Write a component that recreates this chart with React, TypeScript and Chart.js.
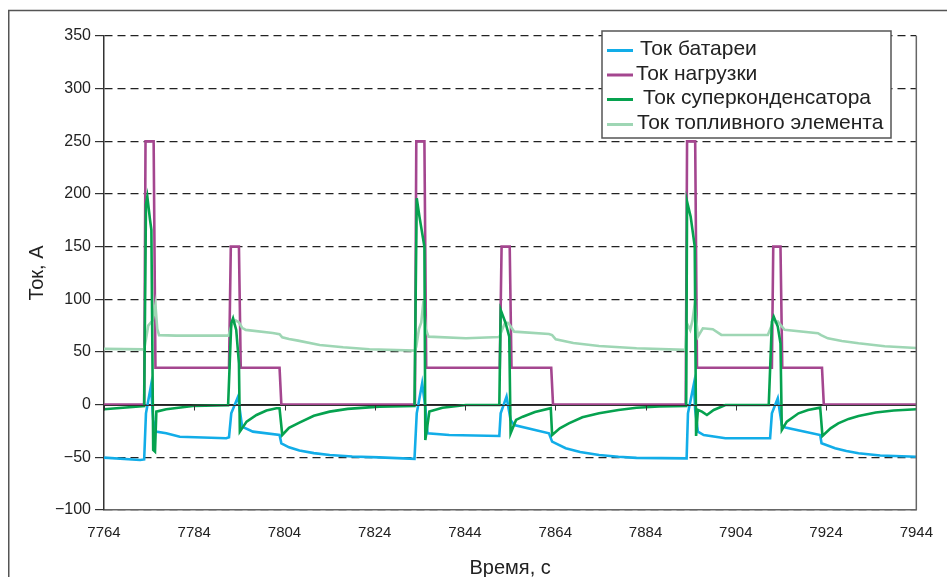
import React, { useEffect, useRef } from "react";
import { Chart, registerables } from "chart.js";

Chart.register(...registerables);

// ---- Data (time in s, current in A) ----
const loadT = [7764, 7772.9, 7773.2, 7775.0, 7775.4, 7791.7, 7792.1, 7793.9, 7794.3, 7802.9, 7803.3,
  7832.9, 7833.2, 7835.0, 7835.4, 7851.7, 7852.1, 7853.9, 7854.3, 7863.1, 7863.5,
  7892.9, 7893.2, 7895.0, 7895.4, 7912.0, 7912.3, 7913.9, 7914.3, 7923.1, 7923.5, 7944];
const loadI = [0, 0, 250, 250, 35, 35, 150, 150, 35, 35, 0,
  0, 250, 250, 35, 35, 150, 150, 35, 35, 0,
  0, 250, 250, 35, 35, 150, 150, 35, 35, 0, 0];

const fuelT = [7764, 7772.9, 7773.3, 7773.8, 7774.8, 7775.4, 7775.8, 7776.2, 7780, 7791.6, 7792.3, 7793.2, 7793.9, 7794.6, 7795.4, 7801.4, 7802.9, 7803.5, 7805, 7807, 7811.8, 7817, 7822.8, 7832.9,
  7833.2, 7833.8, 7834.3, 7834.8, 7835.3, 7835.9, 7844.2, 7851.6, 7852.4, 7852.9, 7853.6, 7854.9, 7862.6, 7863.3, 7864.1, 7868, 7873.7, 7882, 7892.8,
  7893.2, 7893.9, 7894.4, 7894.9, 7895.6, 7896.7, 7898.9, 7900.8, 7911.1, 7912.2, 7913.3, 7914.8, 7922.2, 7922.9, 7924.4, 7927.5, 7931.2, 7937, 7944];
const fuelI = [53, 52.5, 62, 75, 80, 95, 72, 66, 65.5, 65.5, 76, 80, 78, 73, 71, 68, 67, 64, 62.3, 60.8, 56.7, 54.5, 52.6, 51.3,
  55, 72, 78, 99, 72, 64.6, 63, 64.3, 73, 77.9, 77.5, 69.3, 67.1, 66, 62.1, 58.5, 55.7, 53.5, 52,
  77, 71, 80, 95.6, 64.6, 72.5, 71.6, 66.2, 66.2, 78, 79, 71, 67.8, 66, 63, 60.5, 58.3, 55.5, 53.8];

const battT = [7764, 7772, 7772.9, 7773.3, 7774.4, 7774.9, 7775.5, 7777.8, 7780.8, 7791.1, 7791.7, 7792.2, 7793.7, 7794.6, 7797, 7802.9, 7803.3, 7805, 7807.3, 7810.5, 7814, 7819, 7825, 7832.8,
  7833.3, 7834.5, 7835.2, 7835.7, 7840.5, 7851.6, 7851.9, 7853.2, 7854.1, 7854.9, 7862.6, 7863.3, 7866.3, 7869.5, 7873.7, 7878, 7882, 7893.1,
  7893.4, 7894.7, 7895, 7895.6, 7896.9, 7901.7, 7911.6, 7912, 7913.3, 7914.2, 7915, 7922.7, 7923, 7926, 7928.5, 7931.2, 7936, 7944];
const battI = [-50.3, -52.5, -52, -8.2, 17.8, -14.5, -25.6, -27.2, -30.4, -31.9, -31, -8.2, 7.6, -20.9, -25.6, -28.8, -36.7, -40.5, -43.5, -46, -47.8, -49.2, -50, -51.5,
  -8.2, 20.3, -2, -27.2, -28.8, -29.7, -8.2, 7.6, -14.5, -19.3, -27.2, -35.1, -41.4, -45, -47.8, -49.5, -50.5, -51,
  -8.2, 19.5, -5, -25.6, -28.8, -31.9, -31.9, -8.2, 6, -19.3, -21.8, -28.8, -36.7, -41.4, -44, -46.2, -48.2, -49.5];

const capT = [7764, 7772.9, 7773.3, 7773.6, 7774.2, 7774.5, 7774.9, 7775.3, 7775.6, 7777.8, 7783.7, 7791.5, 7792.2, 7792.6, 7793.3, 7793.9, 7794.1, 7795.6, 7797.8, 7800, 7802.2, 7802.9, 7803.5, 7805, 7807.3, 7810.5, 7814, 7818, 7825, 7832.8,
  7833.3, 7833.9, 7835, 7835.2, 7836.1, 7839, 7844.2, 7851.6, 7851.9, 7853, 7853.8, 7854.1, 7855.3, 7856.8, 7859.5, 7863, 7863.3, 7865, 7867, 7870, 7873.7, 7878, 7882, 7887, 7893,
  7893.2, 7894, 7894.9, 7895.2, 7895.6, 7896.5, 7897.6, 7899.1, 7901.7, 7911.3, 7912, 7912.4, 7913.3, 7913.9, 7914.2, 7915.3, 7917.9, 7920, 7922.7, 7923.2, 7925, 7926.7, 7929, 7931.2, 7935, 7939, 7944];
const capI = [-4.4, -1.2, 190, 197.5, 175.4, 166, -43, -44.6, -6.6, -4.4, -1.2, -0.6, 77.3, 82, 71, 39.3, -25.6, -16.1, -9.8, -5.5, -3.4, -3.4, -28.8, -22, -17.1, -10.5, -6.6, -4, -1.9, -1.2,
  196, 178.5, 150, -33.5, -6.6, -3, -0.3, -0.3, 90, 77.3, 64.6, -27.2, -14.5, -11.4, -7, -3.4, -28.8, -22.5, -17.7, -12, -8.2, -5, -3, -1.8, -1.2,
  192.8, 178.5, 150, -29.7, -5, -6.6, -9.8, -5, -0.3, -0.3, 78.8, 83.6, 74.1, 58.3, -24, -16.1, -8.2, -5, -2.8, -29.7, -22.5, -17.7, -13.5, -10.7, -7.5, -5.5, -4.4];

const seriesNames = ["Ток батареи", "Ток нагрузки", "Ток суперконденсатора", "Ток топливного элемента"];
const seriesColors = ["#12ade8", "#a4468f", "#06a24f", "#9ed6b4"];

const xMin = 7764, xMax = 7944, xStep = 20;
const yMin = -100, yMax = 350, yStep = 50;
const xTitle = "Время, с";
const yTitle = "Ток, А";

const FONT = "'Liberation Sans', Arial, sans-serif";

const zip = (t: number[], v: number[]) => t.map((x, i) => ({ x, y: v[i] }));

const decorPlugin = {
  id: "decor",
  afterDatasetsDraw(chart: any) {
    const { ctx, chartArea: a, scales } = chart;
    const y0 = Math.round(scales.y.getPixelForValue(0)) + 0.5;
    ctx.save();
    ctx.strokeStyle = "#333";
    ctx.lineWidth = 1;
    ctx.beginPath();
    ctx.moveTo(a.left, y0);
    ctx.lineTo(a.right, y0);
    ctx.stroke();
    for (let v = xMin; v <= xMax; v += xStep) {
      const px = Math.round(scales.x.getPixelForValue(v)) + 0.5;
      ctx.beginPath();
      ctx.moveTo(px, y0);
      ctx.lineTo(px, y0 + 5);
      ctx.stroke();
    }
    ctx.strokeStyle = "#666";
    ctx.lineWidth = 1.5;
    ctx.beginPath();
    ctx.moveTo(a.right, a.top);
    ctx.lineTo(a.right, a.bottom);
    ctx.stroke();
    ctx.restore();
  },
  afterDraw(chart: any) {
    const { ctx, width, height } = chart;
    ctx.save();
    ctx.strokeStyle = "#555";
    ctx.lineWidth = 1.5;
    ctx.beginPath();
    ctx.moveTo(0.75, height);
    ctx.lineTo(0.75, 2.5);
    ctx.lineTo(width, 2.5);
    ctx.stroke();
    // legend
    const bx = 594, by = 23, bw = 289, bh = 107;
    ctx.fillStyle = "#fff";
    ctx.fillRect(bx, by, bw, bh);
    ctx.strokeStyle = "#555";
    ctx.lineWidth = 1.5;
    ctx.strokeRect(bx, by, bw, bh);
    const rowsY = [42.5, 67, 91.5, 116.5];
    const textX = [632, 628, 635, 629];
    ctx.font = `21px ${FONT}`;
    ctx.textBaseline = "middle";
    ctx.textAlign = "left";
    seriesNames.forEach((n, i) => {
      ctx.strokeStyle = seriesColors[i];
      ctx.lineWidth = 3;
      ctx.beginPath();
      ctx.moveTo(599, rowsY[i]);
      ctx.lineTo(625, rowsY[i]);
      ctx.stroke();
      ctx.fillStyle = "#222";
      ctx.fillText(n, textX[i], rowsY[i] - 1);
    });
    ctx.restore();
  },
};

export default function App() {
  const ref = useRef<HTMLCanvasElement>(null);
  useEffect(() => {
    if (!ref.current) return;
    const mk = (i: number, data: any[], order: number) => ({
      label: seriesNames[i],
      data,
      borderColor: seriesColors[i],
      backgroundColor: seriesColors[i],
      borderWidth: 2.6,
      pointRadius: 0,
      tension: 0,
      fill: false,
      order,
    });
    const chart = new Chart(ref.current, {
      type: "line",
      data: {
        datasets: [
          mk(0, zip(battT, battI), 1),
          mk(1, zip(loadT, loadI), 3),
          mk(2, zip(capT, capI), 0),
          mk(3, zip(fuelT, fuelI), 2),
        ],
      },
      options: {
        animation: false,
        responsive: false,
        layout: { padding: { top: 28, right: 29, left: 0, bottom: 0 } },
        plugins: { legend: { display: false }, tooltip: { enabled: false } },
        scales: {
          x: {
            type: "linear",
            min: xMin,
            max: xMax,
            ticks: { stepSize: xStep, color: "#222", font: { family: FONT, size: 15 }, padding: 14, callback: (v: any) => String(v) },
            grid: { display: false, drawTicks: false },
            border: { display: true, color: "#666", width: 1.5 },
            title: { display: true, text: xTitle, color: "#222", font: { family: FONT, size: 20 }, padding: { top: 0, bottom: -3 } },
            afterFit: (s: any) => { s.height = 67; },
          },
          y: {
            min: yMin,
            max: yMax,
            ticks: {
              stepSize: yStep, color: "#222", font: { family: FONT, size: 16 }, padding: 4,
              callback: (v: any) => (v < 0 ? "\u2212" + Math.abs(v) : String(v)),
            },
            grid: { color: "#222", lineWidth: 1.2, tickLength: 9, tickColor: "#333", tickWidth: 1.2, tickBorderDash: [] },
            border: { display: true, color: "#333", width: 1.5, dash: (c: any) => (c.tick && c.tick.value === 0 ? [] : [8, 5]) },
            title: { display: true, text: yTitle, color: "#222", font: { family: FONT, size: 20 }, padding: { top: 17, bottom: 0 } },
            afterFit: (s: any) => { s.width = 96; },
          },
        },
      },
      plugins: [decorPlugin],
    } as any);
    return () => chart.destroy();
  }, []);
  return (
    <div style={{ width: 900, height: 500 }}>
      <canvas
        ref={ref}
        width={939}
        height={569}
        style={{ display: "block", position: "fixed", left: 8, top: 8 }}
      />
    </div>
  );
}
